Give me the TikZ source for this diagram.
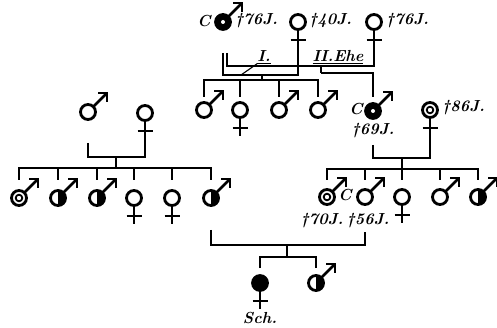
\documentclass[tikz,border=0pt]{standalone}

% symbols for the pedigree
\newcommand{\marsmark}[1]{%
  \draw[sym] (#1) ++(5,-5) -- ++(14,-14);
  \draw[sym] (#1) ++(10,-19) -- ++(9,0) -- ++(0,9);
}
\newcommand{\venusmark}[1]{%
  \draw[sym] (#1) ++(0,8) -- ++(0,18);
  \draw[sym] (#1) ++(-7.5,18) -- ++(15,0);
}
\newcommand{\plainring}[1]{\filldraw[sym,fill=white] (#1) circle (7.5pt);}
\newcommand{\blackring}[1]{\fill (#1) circle (8.9pt); \fill[white] (#1) circle (2pt);}
\newcommand{\fullring}[1]{\fill (#1) circle (8.9pt);}
\newcommand{\doublering}[1]{\filldraw[sym,fill=white] (#1) circle (7.5pt); \draw[sym,line width=1.8pt] (#1) circle (3.3pt);}
\newcommand{\halfring}[1]{\filldraw[sym,fill=white] (#1) circle (7.5pt);
  \fill (#1) -- ++(0,-8.5) arc[start angle=90,end angle=-90,radius=8.5pt] -- cycle;}

\begin{document}
\begin{tikzpicture}[x=1pt,y=-1pt,
    sym/.style={line width=2.8pt},
    link/.style={line width=1.8pt},
    lbl/.style={font=\fontsize{16}{18}\selectfont\bfseries\itshape, inner sep=0pt}]

    \useasboundingbox (0,0) rectangle (497,328);

    % First generation: the man and his two wives
    \coordinate (gf) at (223,22);
    \coordinate (gmA) at (298,22);
    \coordinate (gmB) at (374,22);

    % Children of the first marriage
    \coordinate (a1) at (204,110);
    \coordinate (a2) at (240,110);
    \coordinate (a3) at (279,110);
    \coordinate (a4) at (318,110);

    % Son of the second marriage and his wife
    \coordinate (fa) at (373,111);
    \coordinate (mo) at (430,110);

    % The couple on the left
    \coordinate (lm) at (88,112);
    \coordinate (lw) at (145,113);

    % Their children
    \coordinate (l1) at (19,198);
    \coordinate (l2) at (58,198);
    \coordinate (l3) at (97,198);
    \coordinate (l4) at (134,198);
    \coordinate (l5) at (172,198);
    \coordinate (l6) at (211,198);

    % Children of the couple on the right
    \coordinate (r1) at (327,197);
    \coordinate (r2) at (365,197);
    \coordinate (r3) at (402,197);
    \coordinate (r4) at (440,197);
    \coordinate (r5) at (478,197);

    % Last generation
    \coordinate (b1) at (260,283);
    \coordinate (b2) at (316,283);

    % Marriage lines at the top
    \draw[link] (gf) ++(0,31) -- ++(0,22) -| (gmA);
    \draw[link] (gf) ++(4,31) -- ++(0,13) -| (gmB);

    % Sibship of the first marriage
    \coordinate (wedA) at (262,75);
    \coordinate (sibA) at (262,80);
    \draw[link] (wedA) -- (sibA);
    \foreach \c in {a1,a2,a3,a4}
        \draw[link] (\c) ++(0,-13) |- (sibA);

    % The son of the second marriage
    \coordinate (wedB) at (321,66);
    \coordinate (sibB) at (321,73);
    \draw[link] (wedB) -- (sibB);
    \draw[link] (fa) ++(0,-14) |- (sibB);

    % Marriage on the right and its children
    \draw[link] (fa) ++(0,34) -- ++(0,13) -| (mo);
    \coordinate (wedC) at (402,158);
    \coordinate (sibC) at (402,169);
    \draw[link] (wedC) -- (sibC);
    \foreach \c in {r1,r2,r3,r4,r5}
        \draw[link] (\c) ++(0,-17) |- (sibC);

    % Marriage on the left and its children
    \draw[link] (lm) ++(0,31) -- ++(0,14) -| (lw);
    \coordinate (wedE) at (116,157);
    \coordinate (sibE) at (116,168);
    \draw[link] (wedE) -- (sibE);
    \foreach \c in {l1,l2,l3,l4,l5,l6}
        \draw[link] (\c) ++(0,-18) |- (sibE);

    % Marriage of the cousins and the last children
    \coordinate (wedD) at (287,245);
    \coordinate (sibD) at (287,257);
    \draw[link] (l6) ++(0,32) |- (wedD) -| ([yshift=-35pt]r2);
    \draw[link] (wedD) -- (sibD);
    \foreach \c in {b1,b2}
        \draw[link] (\c) ++(0,-15) |- (sibD);

    % Men
    \foreach \p in {gf,a1,a3,a4,fa,lm,l1,l2,l3,l6,r1,r2,r4,r5,b2}
        {\marsmark{\p}}
    % Women
    \foreach \p in {gmA,gmB,a2,mo,lw,l4,l5,r3,b1}
        {\venusmark{\p}}

    % Rings
    \foreach \p in {gmA,gmB,a1,a2,a3,a4,lm,lw,l4,l5,r2,r3,r4}
        {\plainring{\p}}
    \foreach \p in {gf,fa}
        {\blackring{\p}}
    \foreach \p in {mo,l1,r1}
        {\doublering{\p}}
    \foreach \p in {l2,l3,l6,r5,b2}
        {\halfring{\p}}
    \fullring{b1}

    % Labels
    \node[lbl] (cGF) at (204,21) {C};
    \node[lbl, anchor=west] (dGF) at (235,21) {†76J.};
    \node[lbl, anchor=west] (dGA) at (309,21) {†40J.};
    \node[lbl, anchor=west] (dGB) at (386,21) {†76J.};
    \node[lbl] (ehe1) at (264,57) {\underline{I.}};
    \draw[line width=1.1pt] (241,75) -- (ehe1.south west);
    \node[lbl] (ehe2) at (338,57) {\underline{II.Ehe}};
    \node[lbl] (cFA) at (356,109) {C};
    \node[lbl] (dFA) at (373,131) {†69J.};
    \node[lbl, anchor=west] (dMO) at (442,108) {†86J.};
    \node[lbl] (cR1) at (345,195) {C};
    \node[lbl] (dR1) at (322,221) {†70J.};
    \node[lbl] (dR2) at (368,221) {†56J.};
    \node[lbl] (sch) at (260,318) {Sch.};

\end{tikzpicture}
\end{document}
